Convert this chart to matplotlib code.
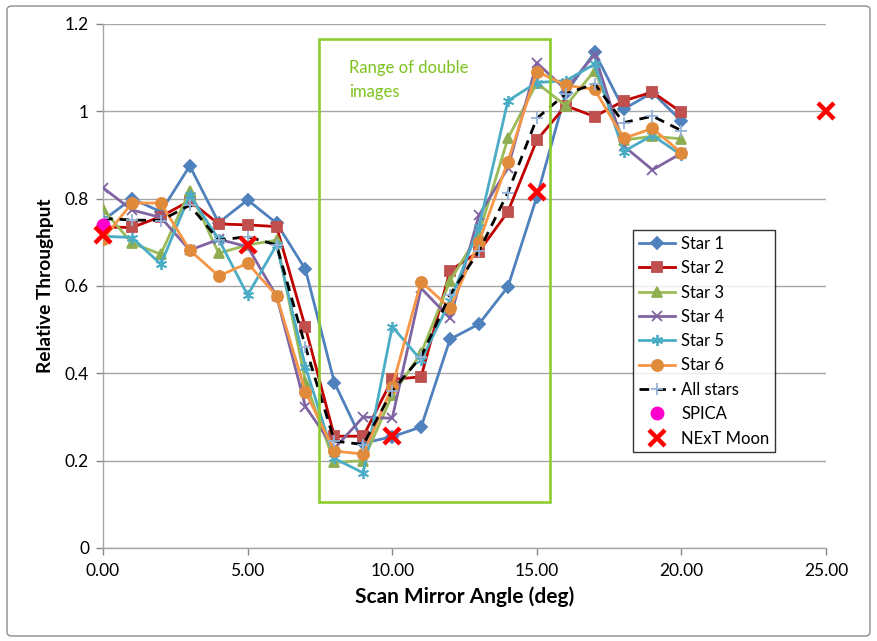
import matplotlib
matplotlib.use("Agg")
import matplotlib.pyplot as plt
from matplotlib.patches import Rectangle, FancyBboxPatch

plt.rcParams['font.family'] = ['Lato', 'DejaVu Sans']

# Scan mirror angles (deg)
angles = list(range(0, 21))

star1 = [0.75, 0.80, 0.77, 0.875, 0.745, 0.797, 0.744, 0.638, 0.379, 0.24, 0.255,
         0.277, 0.478, 0.513, 0.598, 0.804, 1.042, 1.135, 1.005, 1.043, 0.978]
star2 = [0.735, 0.734, 0.759, 0.795, 0.742, 0.74, 0.736, 0.505, 0.256, 0.256, 0.386,
         0.392, 0.635, 0.679, 0.770, 0.934, 1.013, 0.988, 1.024, 1.044, 0.998]
star3 = [0.776, 0.698, 0.673, 0.818, 0.675, 0.694, 0.705, 0.381, 0.196, 0.20, 0.35,
         0.446, 0.612, 0.72, 0.938, 1.065, 1.013, 1.093, 0.934, 0.943, 0.937]
star4 = [0.825, 0.774, 0.757, 0.682, 0.707, 0.69, 0.577, 0.324, 0.228, 0.30, 0.297,
         0.595, 0.526, 0.762, 0.87, 1.111, 1.05, 1.13, 0.921, 0.866, 0.904]
star5 = [0.714, 0.711, 0.65, 0.808, 0.707, 0.579, 0.694, 0.415, 0.205, 0.172, 0.507,
         0.43, 0.565, 0.735, 1.024, 1.066, 1.07, 1.108, 0.908, 0.945, 0.90]
star6 = [0.707, 0.79, 0.79, 0.682, 0.623, 0.652, 0.578, 0.358, 0.222, 0.215, 0.369,
         0.61, 0.549, 0.701, 0.885, 1.091, 1.06, 1.05, 0.938, 0.961, 0.905]
all_stars = [0.755, 0.751, 0.75, 0.785, 0.705, 0.713, 0.694, 0.461, 0.245, 0.237, 0.36,
             0.438, 0.58, 0.68, 0.814, 0.984, 1.04, 1.063, 0.974, 0.989, 0.956]

spica_x = [0]
spica_y = [0.74]

moon_x = [0, 5, 10, 15, 25]
moon_y = [0.717, 0.695, 0.257, 0.815, 1.0]

x_ticks = [0, 5, 10, 15, 20, 25]
x_tick_labels = ["0.00", "5.00", "10.00", "15.00", "20.00", "25.00"]
y_ticks = [0, 0.2, 0.4, 0.6, 0.8, 1.0, 1.2]
y_tick_labels = ["0", "0.2", "0.4", "0.6", "0.8", "1", "1.2"]

W, H = 878, 641
fig = plt.figure(figsize=(W / 100, H / 100), dpi=100)
ax = fig.add_axes([103 / W, (H - 548) / H, (826 - 103) / W, (548 - 24) / H])

# outer chart border
fig.patches.append(FancyBboxPatch((7 / W, 5 / H), (W - 15) / W, (H - 11) / H,
                                  boxstyle="round,pad=0,rounding_size=0.006",
                                  transform=fig.transFigure, fill=False,
                                  edgecolor="#8c8c8c", linewidth=1.0))

series = [
    ("Star 1", star1, "#4F81BD", "#4F81BD", "D", 6, 2),
    ("Star 2", star2, "#C00000", "#C0504D", "s", 7.5, 3),
    ("Star 3", star3, "#9BBB59", "#8FAE52", "^", 7.5, 4),
    ("Star 4", star4, "#8064A2", "#8064A2", "x", 7, 5),
    ("Star 5", star5, "#4BACC6", "#4BACC6", (6, 2, 0), 8, 6),
    ("Star 6", star6, "#F79646", "#E08A3C", "o", 8, 7),
]

for name, vals, lc, mc, mk, ms, z in series:
    ax.plot(angles, vals, color=lc, linewidth=2.0, marker=mk, markersize=ms,
            markerfacecolor=mc, markeredgecolor=mc, markeredgewidth=1.3,
            label=name, zorder=z)

ax.plot(angles, all_stars, color="black", linewidth=2.0, linestyle=(0, (3.5, 2.5)),
        marker="+", markersize=9, markeredgecolor="#95B3D7", markeredgewidth=1.3,
        label="All stars", zorder=8)
ax.plot(spica_x, spica_y, linestyle="none", marker="o", markersize=9,
        color="#FF00CC", label="SPICA", zorder=9, clip_on=False)
ax.plot(moon_x, moon_y, linestyle="none", marker="x", markersize=11,
        markeredgewidth=3.2, color="#FF0000", label="NExT Moon", zorder=10,
        clip_on=False)

# range of double images
ax.add_patch(Rectangle((7.47, 0.105), 15.46 - 7.47, 1.166 - 0.105, fill=False,
                       edgecolor="#8DCC2E", linewidth=1.9, zorder=11))
ax.text(8.5, 1.117, "Range of double\nimages", color="#7DC21E", fontsize=12,
        ha="left", va="top", linespacing=1.6, zorder=12)

ax.set_xlim(0, 25)
ax.set_ylim(0, 1.2)
ax.set_xticks(x_ticks)
ax.set_xticklabels(x_tick_labels)
ax.set_yticks(y_ticks)
ax.set_yticklabels(y_tick_labels)
ax.tick_params(axis="both", labelsize=12.5, colors="#868686", labelcolor="black",
               length=5, width=1, direction="out")
ax.tick_params(axis="x", pad=6)
ax.tick_params(axis="y", pad=5)

ax.grid(axis="y", color="#a6a6a6", linewidth=1.0, zorder=0)
ax.set_axisbelow(True)
for s in ("top", "right"):
    ax.spines[s].set_visible(False)
for s in ("left", "bottom"):
    ax.spines[s].set_color("#a6a6a6")
    ax.spines[s].set_linewidth(1.0)

ax.set_xlabel("Scan Mirror Angle (deg)", fontsize=15, fontweight="bold", labelpad=5)
ax.set_ylabel("Relative Throughput", fontsize=13.8, fontweight="bold", labelpad=8)

leg = ax.legend(loc="upper left", bbox_to_anchor=(633 / W, 1 - 230 / H),
                bbox_transform=fig.transFigure, fontsize=12, frameon=True,
                fancybox=False, edgecolor="black", handlelength=2.2,
                handletextpad=0.35, labelspacing=0.5, borderpad=0.35,
                borderaxespad=0)
leg.get_frame().set_linewidth(1.0)
leg.set_zorder(20)

fig.savefig("out.png", dpi=100)
